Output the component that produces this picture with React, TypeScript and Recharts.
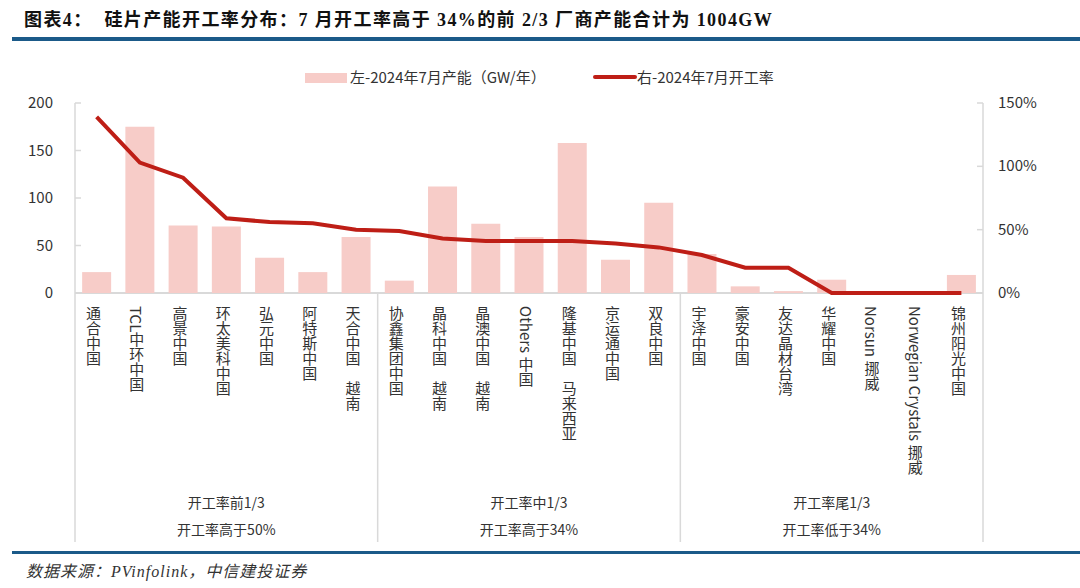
import React from "react";
import { Bar, ComposedChart, Line, XAxis, YAxis } from "recharts";

const categories = [
  "通合中国",
  "TCL中环中国",
  "高景中国",
  "环太美科中国",
  "弘元中国",
  "阿特斯中国",
  "天合中国\u3000越南",
  "协鑫集团中国",
  "晶科中国\u3000越南",
  "晶澳中国\u3000越南",
  "Others 中国",
  "隆基中国\u3000马来西亚",
  "京运通中国",
  "双良中国",
  "宇泽中国",
  "豪安中国",
  "友达晶材台湾",
  "华耀中国",
  "Norsun 挪威",
  "Norwegian Crystals 挪威",
  "锦州阳光中国",
];

// 左轴：2024年7月产能 (GW/年)
const capacity = [22, 175, 71, 70, 37, 22, 59, 13, 112, 73, 59, 158, 35, 95, 41, 7, 2, 14, 0, 0, 19];
// 右轴：2024年7月开工率 (%)
const utilization = [139, 103, 91, 59, 56, 55, 50, 49, 43, 41, 41, 41, 39, 36, 30, 20, 20, 0, 0, 0, 0];

const groupTitles = ["开工率前1/3", "开工率中1/3", "开工率尾1/3"];
const groupNotes = ["开工率高于50%", "开工率高于34%", "开工率低于34%"];
const groupSize = 7;

const leftTicks = [0, 50, 100, 150, 200];
const rightTicks = [0, 50, 100, 150];

const data = categories.map((name, i) => ({
  name,
  capacity: capacity[i],
  utilization: utilization[i],
}));

const W = 1080;
const H = 588;
const plotLeft = 75;
const plotRight = 983;
const plotTop = 103;
const plotBottom = 293;
const step = (plotRight - plotLeft) / categories.length;
const sepBottom = 542;

const BAR = "#F7CCC8";
const LINE = "#BE1E16";
const GRID = "#D9D9D9";
const TEXT = "#333333";
const BLUE = "#1B5A89";
const FONT = '"Noto Sans CJK SC", "Noto Sans", sans-serif';

function CategoryTick(props: any) {
  const { x, y, payload, index } = props;
  const items: React.ReactNode[] = [];
  if (index % groupSize === 0) {
    items.push(
      <line key="sep" x1={x - step / 2} x2={x - step / 2} y1={y} y2={sepBottom} stroke={GRID} strokeWidth={1.5} />
    );
  }
  if (index === categories.length - 1) {
    items.push(
      <line key="sepEnd" x1={x + step / 2} x2={x + step / 2} y1={y} y2={sepBottom} stroke={GRID} strokeWidth={1.5} />
    );
  }
  if (index % groupSize === 3) {
    const g = Math.floor(index / groupSize);
    items.push(
      <text key="g1" x={x} y={508} textAnchor="middle" fontSize={14} fill={TEXT} fontFamily={FONT}>
        {groupTitles[g]}
      </text>,
      <text key="g2" x={x} y={535} textAnchor="middle" fontSize={14} fill={TEXT} fontFamily={FONT}>
        {groupNotes[g]}
      </text>
    );
  }
  return (
    <g>
      {items}
      <text
        x={x - 3}
        y={y + 13}
        fontSize={15}
        fill={TEXT}
        fontFamily={FONT}
        style={{ writingMode: "vertical-rl" }}
      >
        {payload.value}
      </text>
    </g>
  );
}

function LeftTick(props: any) {
  const { x, y, payload } = props;
  return (
    <g>
      <line x1={plotLeft} x2={plotLeft + 6} y1={y} y2={y} stroke={GRID} strokeWidth={1.5} />
      <text x={x} y={y + 5} textAnchor="end" fontSize={15} fill={TEXT} fontFamily={FONT}>
        {payload.value}
      </text>
    </g>
  );
}

function RightTick(props: any) {
  const { x, y, payload } = props;
  return (
    <g>
      <line x1={plotRight - 6} x2={plotRight} y1={y} y2={y} stroke={GRID} strokeWidth={1.5} />
      <text x={x} y={y + 5} textAnchor="start" fontSize={15} fill={TEXT} fontFamily={FONT}>
        {`${payload.value}%`}
      </text>
    </g>
  );
}

export default function App() {
  return (
    <div style={{ position: "absolute", left: 0, top: 0, width: W, height: H, background: "#fff", fontFamily: FONT }}>
      <div
        style={{
          position: "absolute",
          left: 24,
          top: 8,
          fontSize: 18,
          fontWeight: "bold",
          letterSpacing: 1.4,
          whiteSpace: "pre",
          color: "#111",
          fontFamily: '"Liberation Serif", "Noto Sans CJK SC", serif',
          lineHeight: "24px",
        }}
      >
        {"图表4：  硅片产能开工率分布：7 月开工率高于 34%的前 2/3 厂商产能合计为 1004GW"}
      </div>
      <div style={{ position: "absolute", left: 12, top: 37, width: W - 12, height: 4, background: BLUE }} />

      {/* legend */}
      <div style={{ position: "absolute", left: 305, top: 73, width: 42, height: 10, background: BAR }} />
      <div style={{ position: "absolute", left: 350, top: 66, fontSize: 15, color: TEXT, lineHeight: "22px", whiteSpace: "pre" }}>
        左-2024年7月产能（GW/年）
      </div>
      <div style={{ position: "absolute", left: 593, top: 75, width: 44, height: 4, background: LINE, borderRadius: 2 }} />
      <div style={{ position: "absolute", left: 637, top: 66, fontSize: 15, color: TEXT, lineHeight: "22px", whiteSpace: "pre" }}>
        右-2024年7月开工率
      </div>

      {/* category axis baseline, kept beneath the series */}
      <div
        style={{
          position: "absolute",
          left: plotLeft,
          top: plotBottom - 0.75,
          width: plotRight - plotLeft,
          height: 1.5,
          background: GRID,
        }}
      />

      <div style={{ position: "absolute", left: 0, top: 0 }}>
        <ComposedChart
          width={W}
          height={H}
          data={data}
          margin={{ top: plotTop, right: 0, bottom: 0, left: 0 }}
          barCategoryGap="16.5%"
        >
          <XAxis
            dataKey="name"
            xAxisId="x"
            height={H - plotBottom}
            interval={0}
            tickLine={false}
            tickSize={0}
            tickMargin={0}
            axisLine={false}
            tick={<CategoryTick />}
          />
          <YAxis
            yAxisId="left"
            width={plotLeft}
            domain={[0, 200]}
            ticks={leftTicks}
            tickLine={false}
            tickSize={0}
            tickMargin={22}
            axisLine={{ stroke: GRID, strokeWidth: 1.5 }}
            tick={<LeftTick />}
          />
          <YAxis
            yAxisId="right"
            orientation="right"
            width={W - plotRight}
            domain={[0, 150]}
            ticks={rightTicks}
            tickLine={false}
            tickSize={0}
            tickMargin={15}
            axisLine={{ stroke: GRID, strokeWidth: 1.5 }}
            tick={<RightTick />}
          />
          <Bar xAxisId="x" yAxisId="left" dataKey="capacity" fill={BAR} isAnimationActive={false} />
          <Line
            xAxisId="x"
            yAxisId="right"
            dataKey="utilization"
            type="linear"
            stroke={LINE}
            strokeWidth={4}
            dot={false}
            isAnimationActive={false}
          />
        </ComposedChart>
      </div>

      <div style={{ position: "absolute", left: 12, top: 551, width: W - 12, height: 3, background: BLUE }} />
      <div
        style={{
          position: "absolute",
          left: 26,
          top: 561,
          fontSize: 16,
          fontStyle: "italic",
          letterSpacing: 1,
          color: "#333",
          fontFamily: '"Liberation Serif", "Noto Sans CJK SC", serif',
          lineHeight: "22px",
          whiteSpace: "pre",
        }}
      >
        数据来源：PVinfolink，中信建投证券
      </div>
    </div>
  );
}
